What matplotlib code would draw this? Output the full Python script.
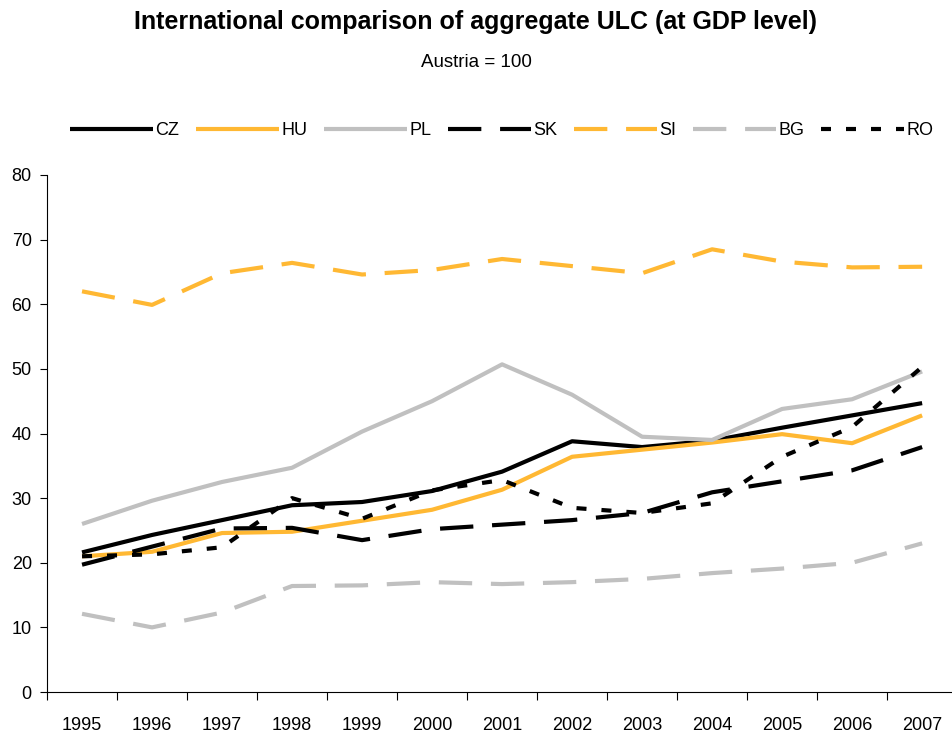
import numpy as np
import matplotlib
matplotlib.use('Agg')
import matplotlib.pyplot as plt

plt.rcParams['font.family'] = ['Liberation Sans', 'DejaVu Sans']

years = ['1995', '1996', '1997', '1998', '1999', '2000', '2001',
         '2002', '2003', '2004', '2005', '2006', '2007']
cz = [21.6, 24.3, 26.6, 28.9, 29.4, 31.1, 34.1, 38.8, 37.9, 38.9, 40.9, 42.8, 44.7]
hu = [21.0, 21.7, 24.6, 24.8, 26.5, 28.2, 31.3, 36.4, 37.5, 38.6, 39.9, 38.5, 42.8]
pl = [26.0, 29.6, 32.5, 34.7, 40.3, 45.0, 50.7, 46.0, 39.5, 39.0, 43.8, 45.3, 49.6]
sk = [19.7, 22.5, 25.3, 25.4, 23.5, 25.2, 25.9, 26.6, 27.7, 30.9, 32.6, 34.3, 37.9]
si = [62.0, 59.9, 64.8, 66.4, 64.6, 65.3, 67.0, 65.9, 64.8, 68.5, 66.6, 65.7, 65.8]
bg = [12.1, 10.0, 12.3, 16.4, 16.5, 17.0, 16.7, 17.0, 17.5, 18.4, 19.1, 20.0, 23.0]
ro = [21.0, 21.3, 22.4, 30.0, 26.8, 31.2, 32.8, 28.5, 27.7, 29.2, 36.4, 41.0, 50.3]

orange = '#FFB833'
grey = '#C0C0C0'
long_dash = (0, (8, 4.5))
short_dash = (0, (2.4, 3.6))

series = [
    ('CZ', cz, 'black', '-'),
    ('HU', hu, orange, '-'),
    ('PL', pl, grey, '-'),
    ('SK', sk, 'black', long_dash),
    ('SI', si, orange, long_dash),
    ('BG', bg, grey, long_dash),
    ('RO', ro, 'black', short_dash),
]

fig = plt.figure(figsize=(9.52, 7.34), dpi=100)
ax = fig.add_axes([0.0494, 0.0572, 0.956, 0.7044])

x = np.arange(len(years))
handles = []
for name, vals, col, ls in series:
    ln, = ax.plot(x, vals, color=col, linestyle=ls, linewidth=3, label=name,
                  solid_capstyle='butt', dash_capstyle='butt')
    handles.append(ln)

ax.set_xlim(-0.5, len(years) - 0.5)
ax.set_ylim(0, 80)
ax.set_yticks(range(0, 81, 10))
ax.set_xticks(x)
ax.set_xticklabels(years)
ax.set_xticks(np.arange(-0.5, len(years), 1), minor=True)
ax.tick_params(axis='x', which='major', length=0, pad=18, labelsize=13)
ax.tick_params(axis='x', which='minor', length=6, direction='out', width=0.8)
ax.tick_params(axis='y', length=5, direction='out', width=0.8, labelsize=13, pad=6)
ax.spines['top'].set_visible(False)
ax.spines['right'].set_visible(False)
ax.spines['left'].set_linewidth(0.8)
ax.spines['bottom'].set_linewidth(0.8)

fig.text(0.5, 0.970, 'International comparison of aggregate ULC (at GDP level)',
         ha='center', va='center', fontsize=18, fontweight='bold')
fig.text(0.5, 0.915, 'Austria = 100', ha='center', va='center', fontsize=13.5)

fig.legend(handles=handles, loc='center', bbox_to_anchor=(0.527, 0.822), ncol=7,
           frameon=False, fontsize=13, handlelength=4.6, handletextpad=0.15,
           columnspacing=0.9)

fig.savefig('out.png', dpi=100)
